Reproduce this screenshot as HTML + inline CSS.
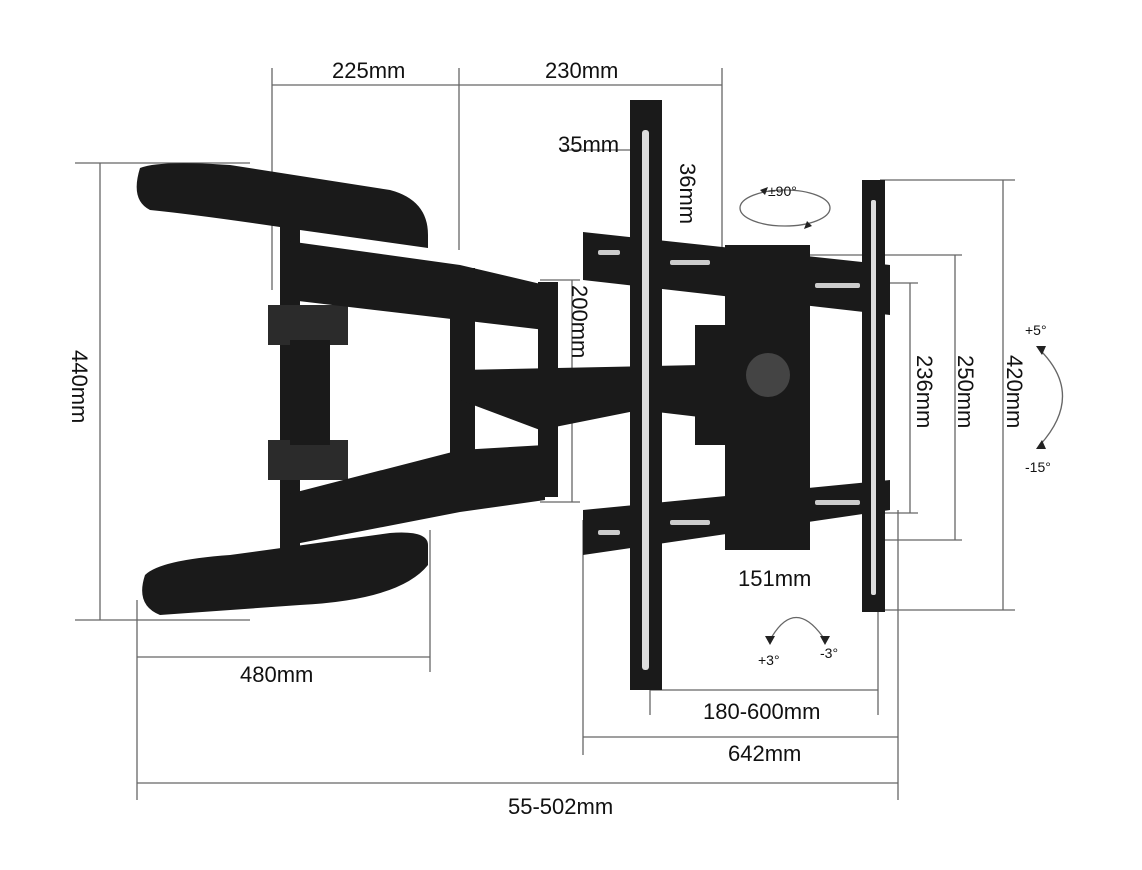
<!DOCTYPE html>
<html><head><meta charset="utf-8"><style>
html,body{margin:0;padding:0;background:#fff;}
svg{display:block}
text{font-family:"Liberation Sans",sans-serif;font-size:22px;fill:#111}
.d{stroke:#666;stroke-width:1.3;fill:none}
.k{fill:#1a1a1a}
.m{fill:#2b2b2b}
</style></head><body>
<svg width="1142" height="870" viewBox="0 0 1142 870" xmlns="http://www.w3.org/2000/svg">
<g class="d">
<line x1="272" y1="85" x2="722" y2="85"/>
<line x1="272" y1="68" x2="272" y2="290"/>
<line x1="459" y1="68" x2="459" y2="250"/>
<line x1="722" y1="68" x2="722" y2="270"/>
<line x1="100" y1="163" x2="100" y2="620"/>
<line x1="75" y1="163" x2="250" y2="163"/>
<line x1="75" y1="620" x2="250" y2="620"/>
<line x1="572" y1="280" x2="572" y2="502"/>
<line x1="540" y1="280" x2="580" y2="280"/>
<line x1="540" y1="502" x2="580" y2="502"/>
<line x1="910" y1="283" x2="910" y2="513"/>
<line x1="880" y1="283" x2="918" y2="283"/>
<line x1="880" y1="513" x2="918" y2="513"/>
<line x1="955" y1="255" x2="955" y2="540"/>
<line x1="810" y1="255" x2="962" y2="255"/>
<line x1="880" y1="540" x2="962" y2="540"/>
<line x1="1003" y1="180" x2="1003" y2="610"/>
<line x1="880" y1="180" x2="1015" y2="180"/>
<line x1="880" y1="610" x2="1015" y2="610"/>
<line x1="728" y1="548" x2="795" y2="548"/>
<line x1="650" y1="690" x2="878" y2="690"/>
<line x1="650" y1="670" x2="650" y2="715"/>
<line x1="878" y1="612" x2="878" y2="715"/>
<line x1="583" y1="737" x2="898" y2="737"/>
<line x1="583" y1="520" x2="583" y2="755"/>
<line x1="898" y1="510" x2="898" y2="800"/>
<line x1="137" y1="657" x2="430" y2="657"/>
<line x1="430" y1="530" x2="430" y2="672"/>
<line x1="137" y1="600" x2="137" y2="800"/>
<line x1="137" y1="783" x2="898" y2="783"/>
<line x1="560" y1="150" x2="630" y2="150"/>
</g>
<path class="k" d="M140 168 Q160 160 230 165 L390 190 Q428 200 428 235 L428 248 L300 230 Q200 215 150 210 Q130 200 140 168Z"/>
<path class="k" d="M145 575 Q160 560 230 555 L390 533 Q428 530 428 545 L428 565 Q400 600 300 605 L160 615 Q135 605 145 575Z"/>
<rect class="k" x="280" y="225" width="20" height="330"/>
<rect class="m" x="268" y="305" width="80" height="40"/>
<rect class="m" x="268" y="440" width="80" height="40"/>
<rect class="k" x="290" y="340" width="40" height="105"/>
<path class="k" d="M280 240 L460 265 L545 285 L545 330 L460 320 L290 300Z"/>
<path class="k" d="M285 495 L460 450 L545 445 L545 500 L460 512 L290 545Z"/>
<rect class="k" x="450" y="268" width="25" height="240"/>
<rect class="k" x="538" y="282" width="20" height="215"/>
<path class="k" d="M460 370 L700 365 L720 345 L725 420 L640 410 L540 430 L460 400Z"/>
<rect class="k" x="695" y="325" width="30" height="120"/>
<path class="k" d="M583 232 L890 265 L890 315 L583 280Z"/>
<path class="k" d="M583 510 L890 480 L890 510 L583 555Z"/>
<g fill="#ccc">
<rect x="598" y="250" width="22" height="5" rx="2"/>
<rect x="670" y="260" width="40" height="5" rx="2"/>
<rect x="815" y="283" width="45" height="5" rx="2"/>
<rect x="598" y="530" width="22" height="5" rx="2"/>
<rect x="670" y="520" width="40" height="5" rx="2"/>
<rect x="815" y="500" width="45" height="5" rx="2"/>
</g>
<rect class="k" x="725" y="245" width="85" height="305"/>
<circle cx="768" cy="375" r="22" fill="#444"/>
<rect class="k" x="630" y="100" width="32" height="590"/>
<rect class="k" x="862" y="180" width="23" height="432"/>
<rect x="642" y="130" width="7" height="540" rx="3" fill="#ddd"/>
<rect x="871" y="200" width="5" height="395" rx="2" fill="#ddd"/>
<ellipse cx="785" cy="208" rx="45" ry="18" class="d" stroke="#222" stroke-width="2"/>
<path d="M760 190 l8 -3 l-3 8z M812 226 l-8 3 l3 -8z" fill="#222"/>
<path d="M1040 350 Q1085 395 1040 445" class="d" stroke="#222" stroke-width="2"/>
<path d="M1036 346 l10 0 l-4 9z M1036 449 l10 0 l-4 -9z" fill="#222"/>
<path d="M770 640 Q795 595 825 640" class="d" stroke="#222" stroke-width="2"/>
<path d="M765 636 l10 0 l-5 9z M820 636 l10 0 l-5 9z" fill="#222"/>
<text x="332" y="78">225mm</text>
<text x="545" y="78">230mm</text>
<text x="558" y="152">35mm</text>
<text transform="translate(680,163) rotate(90)">36mm</text>
<text x="768" y="196" style="font-size:14px">±90°</text>
<text transform="translate(72,350) rotate(90)">440mm</text>
<text transform="translate(572,285) rotate(90)">200mm</text>
<text transform="translate(917,355) rotate(90)">236mm</text>
<text transform="translate(958,355) rotate(90)">250mm</text>
<text transform="translate(1007,355) rotate(90)">420mm</text>
<text x="1025" y="335" style="font-size:14px">+5°</text>
<text x="1025" y="472" style="font-size:14px">-15°</text>
<text x="738" y="586">151mm</text>
<text x="758" y="665" style="font-size:14px">+3°</text>
<text x="820" y="658" style="font-size:14px">-3°</text>
<text x="240" y="682">480mm</text>
<text x="703" y="719">180-600mm</text>
<text x="728" y="761">642mm</text>
<text x="508" y="814">55-502mm</text>
</svg>
</body></html>
